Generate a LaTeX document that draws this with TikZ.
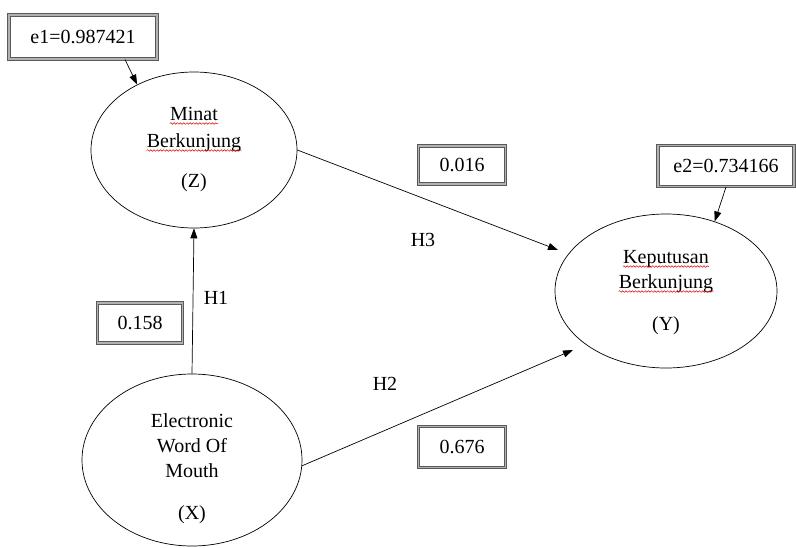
\documentclass[tikz,border=0pt]{standalone}
\usepackage{fontspec}
\setmainfont{Liberation Serif}
\usetikzlibrary{shapes.geometric,arrows.meta,decorations.pathmorphing,calc}
\begin{document}
\begin{tikzpicture}[x=1pt,y=-1pt,
  every node/.style={font=\fontsize{20}{26}\selectfont},
  var/.style={draw, ellipse, inner sep=0pt, line width=0.7pt},
  valbox/.style={draw=black!65, double=black!30, double distance=1.8pt, line width=1pt, inner sep=0pt},
  txt/.style={anchor=base, inner sep=0pt},
  lbl/.style={inner sep=0pt},
  conn/.style={line width=0.7pt, -{Triangle[length=10pt,width=7pt]}},
  squig/.style={draw=red!85!black, line width=0.5pt, decorate, decoration={snake, amplitude=0.8pt, segment length=3.2pt}}
]
\useasboundingbox (0,0) rectangle (796,547);
% ellipses
\node[var, minimum width=206, minimum height=156] (Z) at (194,150) {};
\node[var, minimum width=220, minimum height=172] (X) at (192,460) {};
\node[var, minimum width=222, minimum height=154] (Y) at (666,291) {};
% texts
\node[txt] (z1) at (194,120) {Minat};
\node[txt] (z2) at (194,147) {Berkunjung};
\node[txt] (z3) at (194,187) {(Z)};
\node[txt] (y1) at (666,263) {Keputusan};
\node[txt] (y2) at (666,288) {Berkunjung};
\node[txt] (y3) at (666,330) {(Y)};
\node[txt] (x1) at (192,427) {Electronic};
\node[txt] (x2) at (192,452) {Word Of};
\node[txt] (x3) at (192,477) {Mouth};
\node[txt] (x4) at (192,519) {(X)};
\foreach \n in {z1,z2,y1,y2}{
  \draw[squig] ([yshift=-3.5]\n.base west) -- ([yshift=-3.5]\n.base east);
}
% value boxes
\node[valbox, minimum width=148, minimum height=44] (e1) at (83,37) {e1=0.987421};
\node[valbox, minimum width=136, minimum height=41] (e2) at (726,166) {e2=0.734166};
\node[valbox, minimum width=87, minimum height=38] (b016) at (462,165) {0.016};
\node[valbox, minimum width=85, minimum height=40] (b158) at (140,323) {0.158};
\node[valbox, minimum width=87, minimum height=41] (b676) at (462,447) {0.676};
% labels
\node[lbl] (h1) at (216,298) {H1};
\node[lbl] (h3) at (423,240) {H3};
\node[lbl] (h2) at (385,384) {H2};
% connectors
\draw[conn] ([xshift=42]e1.south) -- (Z.131);
\draw[conn] (e2.south) -- (Y.55);
\draw[conn] (X.north) -- (Z.south);
\draw[conn] (Z.east) -- ($(Y.center)+(-108,-41)$);
\draw[conn] (X.-3.6) -- ($(Y.center)+(-93,59)$);
\end{tikzpicture}
\end{document}
